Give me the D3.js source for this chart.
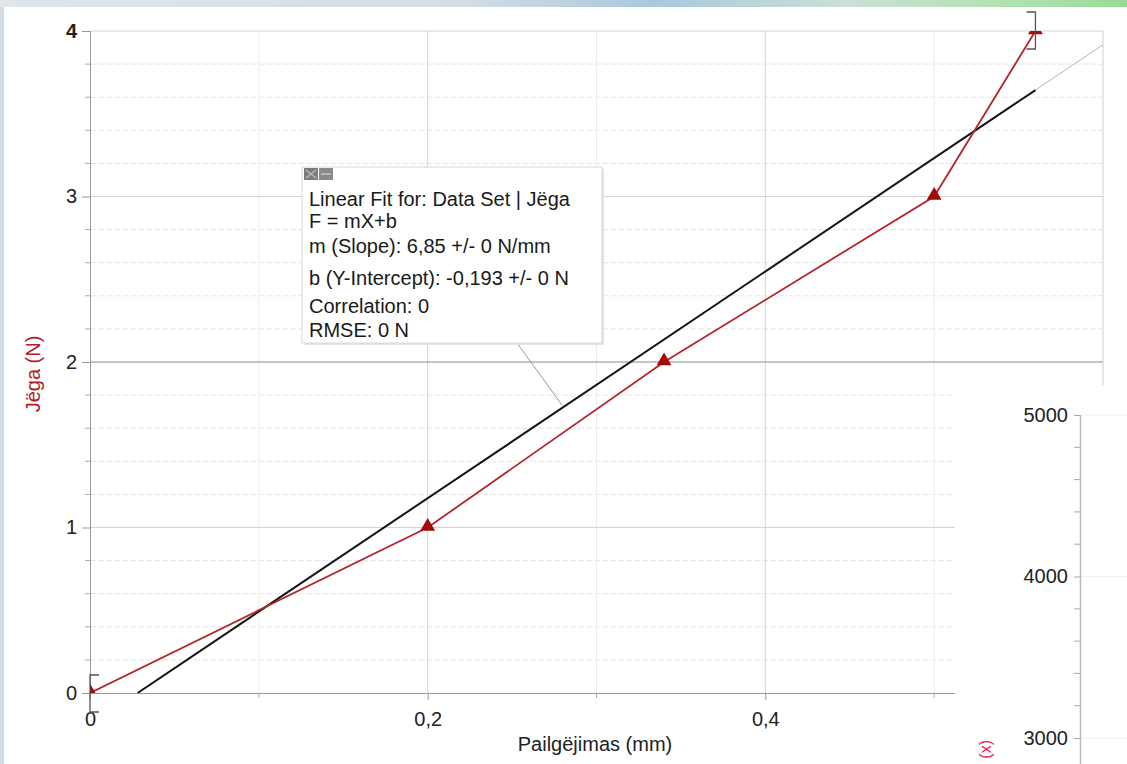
<!DOCTYPE html>
<html>
<head>
<meta charset="utf-8">
<script src="https://cdn.jsdelivr.net/npm/d3@7"></script>
<style>
  body { margin: 0; background: #fff; }
  svg { display: block; font-family: Arial, "Liberation Sans", sans-serif; }
</style>
</head>
<body>
<svg id="chart" width="1127" height="764"></svg>
<script>
// data
const elongation = [0, 0.2, 0.34, 0.5, 0.56];   // mm
const force = [0, 1, 2, 3, 4];                  // N
const fitSlope = 6.85;
const fitIntercept = -0.193;
const xTicks = [0, 0.2, 0.4];
const yTicks = [0, 1, 2, 3, 4];
const panelTicks = [3000, 4000, 5000];
const legendLines = [
  'Linear Fit for: Data Set | Jëga',
  'F = mX+b',
  'm (Slope): 6,85 +/- 0 N/mm',
  'b (Y-Intercept): -0,193 +/- 0 N',
  'Correlation: 0',
  'RMSE: 0 N'
];

const svg = d3.select('#chart');
const locale = d3.formatLocale({ decimal: ',', thousands: ' ', grouping: [3], currency: ['', ''] });
const fmt = locale.format('~g');

// window frame
const defs = svg.append('defs');
const topGrad = defs.append('linearGradient').attr('id', 'topGrad');
[['0%', '#dfe5ea'], ['40%', '#d5dee6'], ['58%', '#a9c8dc'], ['75%', '#c9e0d6'], ['88%', '#b5e2b4'], ['100%', '#98da98']]
  .forEach(s => topGrad.append('stop').attr('offset', s[0]).attr('stop-color', s[1]));
svg.append('rect').attr('width', 1127).attr('height', 7).attr('fill', 'url(#topGrad)');
svg.append('rect').attr('y', 7).attr('width', 4).attr('height', 757).attr('fill', '#d3dbe5');

const plot = { left: 90, right: 1103, top: 31, bottom: 693 };
const x = d3.scaleLinear().domain([0, 0.6]).range([plot.left, plot.right]);
const y = d3.scaleLinear().domain([0, 4]).range([plot.bottom, plot.top]);

defs.append('clipPath').attr('id', 'plotClip').append('rect')
  .attr('x', plot.left).attr('y', plot.top)
  .attr('width', plot.right - plot.left).attr('height', plot.bottom - plot.top);

// grid
const minorY = d3.range(0.2, 4, 0.2).filter(v => Math.abs(v - Math.round(v)) > 0.01);
const grid = svg.append('g');
grid.selectAll('.ymin').data(minorY).enter().append('line')
  .attr('x1', plot.left).attr('x2', plot.right)
  .attr('y1', d => y(d)).attr('y2', d => y(d))
  .attr('stroke', '#e6e6e6').attr('stroke-dasharray', '6,2');
grid.selectAll('.xmin').data([0.1, 0.3, 0.5]).enter().append('line')
  .attr('x1', d => x(d)).attr('x2', d => x(d))
  .attr('y1', plot.top).attr('y2', plot.bottom)
  .attr('stroke', '#ececec');
grid.selectAll('.xmaj').data([0.2, 0.4]).enter().append('line')
  .attr('x1', d => x(d)).attr('x2', d => x(d))
  .attr('y1', plot.top).attr('y2', plot.bottom)
  .attr('stroke', '#d4d4d4');
grid.selectAll('.ymaj').data([1, 3, 4]).enter().append('line')
  .attr('x1', plot.left).attr('x2', plot.right)
  .attr('y1', d => y(d)).attr('y2', d => y(d))
  .attr('stroke', '#d4d4d4');
grid.append('line')
  .attr('x1', plot.left).attr('x2', plot.right).attr('y1', y(2)).attr('y2', y(2))
  .attr('stroke', '#8a8a8a');
grid.append('line')
  .attr('x1', plot.right).attr('x2', plot.right).attr('y1', plot.top).attr('y2', plot.bottom)
  .attr('stroke', '#cfcfcf');

// axes
const xAxis = d3.axisBottom(x).tickValues(xTicks).tickFormat(fmt).tickSize(7).tickPadding(12);
const gx = svg.append('g').attr('transform', `translate(0,${plot.bottom})`).call(xAxis);
gx.select('.domain').attr('stroke', '#999').attr('d', `M${plot.left},0.5H${plot.right}`);
gx.selectAll('.tick line').attr('stroke', '#999');
gx.selectAll('.tick text').attr('font-size', 20).attr('fill', '#222');
gx.selectAll('.minor').data([0.1, 0.3, 0.5]).enter().append('line')
  .attr('x1', d => x(d)).attr('x2', d => x(d)).attr('y1', 0).attr('y2', 5).attr('stroke', '#aaa');

const yAxis = d3.axisLeft(y).tickValues(yTicks).tickFormat(fmt).tickSize(8).tickPadding(5);
const gy = svg.append('g').attr('transform', `translate(${plot.left},0)`).call(yAxis);
gy.select('.domain').attr('stroke', '#999').attr('d', `M0.5,${plot.top}V${plot.bottom}`);
gy.selectAll('.tick line').attr('stroke', '#999');
gy.selectAll('.tick text').attr('font-size', 20).attr('fill', '#222');
gy.selectAll('.tick text').filter(d => d === 4).attr('font-weight', 'bold');
gy.selectAll('.minor').data(minorY).enter().append('line')
  .attr('x1', -5).attr('x2', 0).attr('y1', d => y(d)).attr('y2', d => y(d)).attr('stroke', '#aaa');

// axis titles
svg.append('text').attr('x', 595).attr('y', 751).attr('text-anchor', 'middle')
  .attr('font-size', 20).attr('fill', '#222').text('Pailgëjimas (mm)');
svg.append('text').attr('transform', 'translate(40,374) rotate(-90)').attr('text-anchor', 'middle')
  .attr('font-size', 20).attr('fill', '#b0202a').text('Jëga (N)');

// linear fit
const fitY = v => fitSlope * v + fitIntercept;
const x0 = -fitIntercept / fitSlope;
const xLast = elongation[elongation.length - 1];
const clipped = svg.append('g').attr('clip-path', 'url(#plotClip)');
clipped.append('line')
  .attr('x1', x(xLast)).attr('y1', y(fitY(xLast)))
  .attr('x2', x(0.6)).attr('y2', y(fitY(0.6)))
  .attr('stroke', '#b5b5b5').attr('stroke-width', 1);
clipped.append('line')
  .attr('x1', x(x0)).attr('y1', y(0))
  .attr('x2', x(xLast)).attr('y2', y(fitY(xLast)))
  .attr('stroke', '#141414').attr('stroke-width', 2);

// data line + markers
const line = d3.line().x((d, i) => x(elongation[i])).y(d => y(d));
clipped.append('path').datum(force).attr('d', line)
  .attr('fill', 'none').attr('stroke', '#b3262c').attr('stroke-width', 1.8);
clipped.selectAll('.pt').data(force).enter().append('path')
  .attr('d', d3.symbol(d3.symbolTriangle, 95))
  .attr('transform', (d, i) => `translate(${x(elongation[i])},${y(d) - 1})`)
  .attr('fill', '#a30a0a');

// selection brackets
const bx0 = x(elongation[0]), by0 = y(force[0]);
svg.append('path').attr('d', `M${bx0 + 9},${by0 - 18}H${bx0}V${by0 + 19}H${bx0 + 9}`)
  .attr('fill', 'none').attr('stroke', '#555').attr('stroke-width', 1.3);
const bx1 = x(xLast), by1 = y(force[force.length - 1]);
svg.append('path').attr('d', `M${bx1 - 9},${by1 - 19}H${bx1}V${by1 + 18}H${bx1 - 9}`)
  .attr('fill', 'none').attr('stroke', '#555').attr('stroke-width', 1.3);

// leader line from legend to fit line
svg.append('line').attr('x1', 517).attr('y1', 343).attr('x2', 562).attr('y2', 405)
  .attr('stroke', '#999').attr('stroke-width', 1);

// legend box
const box = svg.append('g').attr('transform', 'translate(302,167)');
box.append('rect').attr('x', 2).attr('y', 2).attr('width', 300).attr('height', 176).attr('fill', '#e4e4e4');
box.append('rect').attr('width', 300).attr('height', 176).attr('fill', '#fff').attr('stroke', '#d8d8d8');
const icon = box.append('g').attr('transform', 'translate(2,1)');
icon.append('rect').attr('width', 14).attr('height', 12).attr('fill', '#7c7c7c');
icon.append('path').attr('d', 'M2,2L12,10M12,2L2,10').attr('stroke', '#bdbdbd').attr('stroke-width', 1.2);
icon.append('rect').attr('x', 15).attr('width', 14).attr('height', 12).attr('fill', '#8a8a8a');
icon.append('path').attr('d', 'M17,6H27').attr('stroke', '#c4c4c4').attr('stroke-width', 1.5);
const lineY = [39, 61, 86, 118, 146, 170];
box.selectAll('.lg').data(legendLines).enter().append('text')
  .attr('x', 7).attr('y', (d, i) => lineY[i])
  .attr('font-size', 20).attr('fill', '#1a1a1a').text(d => d);

// second graph panel overlapping at bottom right
const panel = { left: 955, top: 385, axisX: 1080 };
svg.append('rect').attr('x', panel.left).attr('y', panel.top)
  .attr('width', 1127 - panel.left).attr('height', 764 - panel.top).attr('fill', '#fff');
const y2 = d3.scaleLinear().domain([3000, 5000]).range([738, 415]);
svg.selectAll('.pg').data(panelTicks).enter().append('line')
  .attr('x1', panel.axisX).attr('x2', 1127).attr('y1', d => y2(d)).attr('y2', d => y2(d))
  .attr('stroke', '#f0f0f0');
const gy2 = svg.append('g').attr('transform', `translate(${panel.axisX},0)`)
  .call(d3.axisLeft(y2).tickValues(panelTicks).tickFormat(locale.format('d')).tickSize(6).tickPadding(6));
gy2.select('.domain').attr('stroke', '#bbb').attr('stroke-width', 1.5).attr('d', 'M0.5,415V764');
gy2.selectAll('.tick line').attr('stroke', '#aaa');
gy2.selectAll('.tick text').attr('font-size', 20).attr('fill', '#222');
gy2.selectAll('.minor').data(d3.range(3200, 5000, 200).filter(v => v % 1000 !== 0))
  .enter().append('line')
  .attr('x1', -6).attr('x2', 0).attr('y1', d => y2(d)).attr('y2', d => y2(d)).attr('stroke', '#aaa');
svg.append('text').attr('transform', 'translate(991,740) rotate(-90)').attr('text-anchor', 'end')
  .attr('font-size', 16).attr('fill', '#e8204a').text('(x)');
</script>
</body>
</html>
